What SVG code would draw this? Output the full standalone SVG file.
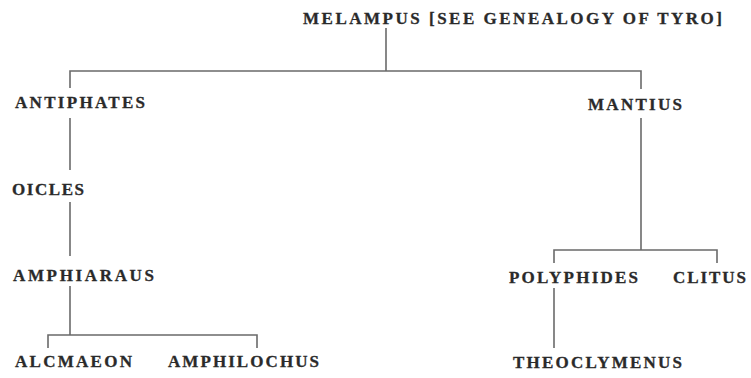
<svg xmlns="http://www.w3.org/2000/svg" width="751" height="378" viewBox="0 0 751 378">
<style>
text{font-family:"Liberation Serif","DejaVu Serif",serif;font-weight:bold;font-size:17px;fill:#2a2a2a;letter-spacing:1px;stroke:#2a2a2a;stroke-width:0.3px}
.c line,.c polyline{stroke:#6a6a6a;stroke-width:1.6;fill:none}
</style>
<rect width="751" height="378" fill="#fff"/>
<g class="c" id="connectors">
<line x1="386" y1="28" x2="386" y2="71"/>
<polyline points="70,88 70,71 641,71 641,89"/>
<line x1="70" y1="118" x2="70" y2="170"/>
<line x1="70" y1="202" x2="70" y2="256"/>
<line x1="70" y1="286" x2="70" y2="335"/>
<polyline points="48,348 48,335 257,335 257,348"/>
<line x1="641" y1="118" x2="641" y2="250"/>
<polyline points="554,263 554,250 717,250 717,263"/>
<line x1="554" y1="288" x2="554" y2="348"/>
</g>
<g id="melampus"><text x="303" y="24" textLength="420" lengthAdjust="spacing">MELAMPUS [SEE GENEALOGY OF TYRO]</text></g>
<g id="antiphates"><text x="15" y="108" textLength="131" lengthAdjust="spacing">ANTIPHATES</text></g>
<g id="mantius"><text x="588" y="110" textLength="95" lengthAdjust="spacing">MANTIUS</text></g>
<g id="oicles"><text x="12" y="195" textLength="73" lengthAdjust="spacing">OICLES</text></g>
<g id="amphiaraus"><text x="13" y="281" textLength="142" lengthAdjust="spacing">AMPHIARAUS</text></g>
<g id="alcmaeon"><text x="15" y="367" textLength="118" lengthAdjust="spacing">ALCMAEON</text></g>
<g id="amphilochus"><text x="168" y="367" textLength="152" lengthAdjust="spacing">AMPHILOCHUS</text></g>
<g id="polyphides"><text x="509" y="283" textLength="130" lengthAdjust="spacing">POLYPHIDES</text></g>
<g id="clitus"><text x="673" y="283" textLength="74" lengthAdjust="spacing">CLITUS</text></g>
<g id="theoclymenus"><text x="513" y="368" textLength="170" lengthAdjust="spacing">THEOCLYMENUS</text></g>
</svg>
